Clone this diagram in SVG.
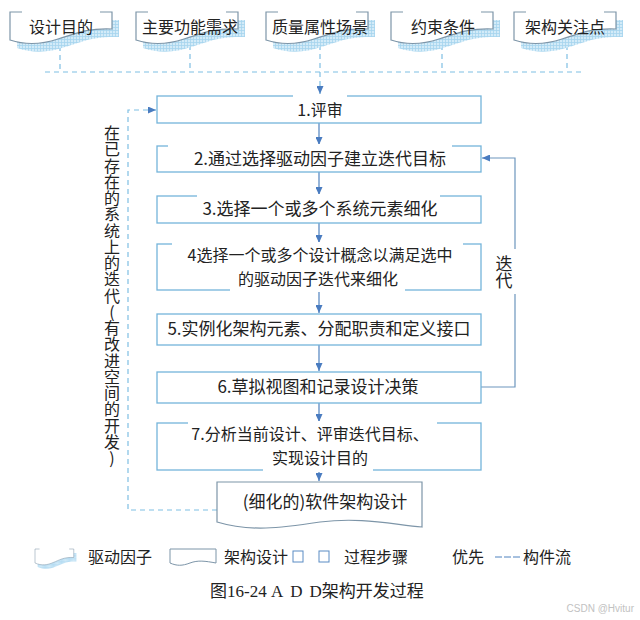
<svg xmlns="http://www.w3.org/2000/svg" xmlns:xlink="http://www.w3.org/1999/xlink" width="640" height="620" viewBox="0 0 640 620">
<style>
.t{font-family:"Noto Sans CJK SC","Liberation Sans",sans-serif;fill:#222;}
.v{writing-mode:vertical-rl;text-orientation:upright;}
.box{fill:#fff;stroke:#74b4da;stroke-width:1.3;}
.gap{fill:#fff;}
.docline{fill:none;stroke:#7d95a8;stroke-width:1.2;}
.dash{fill:none;stroke:#7fbfe3;stroke-width:1.2;stroke-dasharray:5,4;}
.flow{fill:none;stroke:#4f82bf;stroke-width:1.2;}
.loop{fill:none;stroke:#6d96bd;stroke-width:1.2;}
</style>
<defs>
<pattern id="hatch" width="3" height="3" patternUnits="userSpaceOnUse">
<rect width="3" height="3" fill="#d3ebf8"/>
<path d="M0,0.5H3M0.5,0V3" stroke="#a6d4ee" stroke-width="0.8"/>
</pattern>
<marker id="ah" markerWidth="8" markerHeight="7" refX="8" refY="3.5" orient="auto" markerUnits="userSpaceOnUse">
<path d="M0,0L8,3.5L0,7z" fill="#4a7cc0"/>
</marker>
<g id="doc">
<path d="M7,8H109V25C82,24 72,30 55,35C40,40 25,42 7,36Z" fill="url(#hatch)"/>
<path d="M0,0H102V17C75,16 65,22 48,27C33,32 18,34 0,28Z" fill="#fff"/>
<path class="docline" d="M12,0H0V28C18,34 33,32 48,27C65,22 75,16 102,17V0H90"/>
</g>
</defs>

<g id="connectors">
<path class="dash" d="M60,37V72M190,36V72M320,36V88M442,36V72M567,36V72M45,72H583"/>
<line x1="320" y1="86" x2="320" y2="94" stroke="#7fbfe3" stroke-width="1.2" marker-end="url(#ah)"/>
<line class="flow" x1="319" y1="123" x2="319" y2="145" marker-end="url(#ah)"/>
<line class="flow" x1="319" y1="172" x2="319" y2="195" marker-end="url(#ah)"/>
<line class="flow" x1="319" y1="223" x2="319" y2="243" marker-end="url(#ah)"/>
<line class="flow" x1="319" y1="290" x2="319" y2="313" marker-end="url(#ah)"/>
<line class="flow" x1="319" y1="345" x2="319" y2="371" marker-end="url(#ah)"/>
<line class="flow" x1="319" y1="403" x2="319" y2="422" marker-end="url(#ah)"/>
<line class="flow" x1="319" y1="470" x2="319" y2="481" marker-end="url(#ah)"/>
<path class="loop" d="M481,387H515V294M515,249V158H482" marker-end="url(#ah)"/>
<path class="dash" d="M217,510H128V110H150"/>
<line x1="150" y1="110" x2="156" y2="110" stroke="#7fbfe3" stroke-width="1.2" marker-end="url(#ah)"/>
</g>

<g id="driver-1"><use xlink:href="#doc" x="10" y="12"/><text class="t" x="61" y="33" font-size="16" text-anchor="middle">设计目的</text></g>
<g id="driver-2"><use xlink:href="#doc" x="136" y="12"/><text class="t" x="190" y="33" font-size="16" text-anchor="middle">主要功能需求</text></g>
<g id="driver-3"><use xlink:href="#doc" x="266" y="12"/><text class="t" x="320" y="33" font-size="16" text-anchor="middle">质量属性场景</text></g>
<g id="driver-4"><use xlink:href="#doc" x="391" y="12"/><text class="t" x="443" y="33" font-size="16" text-anchor="middle">约束条件</text></g>
<g id="driver-5"><use xlink:href="#doc" x="514" y="12"/><text class="t" x="565" y="33" font-size="16" text-anchor="middle">架构关注点</text></g>

<g id="step-1"><rect class="box" x="157" y="96" width="324" height="27"/><rect class="gap" x="293" y="94" width="54" height="4"/><text class="t" x="320" y="116" font-size="16" text-anchor="middle">1.评审</text></g>
<g id="step-2"><rect class="box" x="157" y="146" width="324" height="26"/><rect class="gap" x="168" y="144" width="284" height="4"/><text class="t" x="320" y="165" font-size="17" text-anchor="middle">2.通过选择驱动因子建立迭代目标</text></g>
<g id="step-3"><rect class="box" x="157" y="196" width="324" height="27"/><rect class="gap" x="197" y="194" width="243" height="4"/><text class="t" x="320" y="215" font-size="17" text-anchor="middle">3.选择一个或多个系统元素细化</text></g>
<g id="step-4"><rect class="box" x="157" y="244" width="324" height="46"/><rect class="gap" x="172" y="242" width="291" height="4"/><rect class="gap" x="230" y="288" width="175" height="4"/><text class="t" font-size="16" text-anchor="middle"><tspan x="320" y="261">4选择一个或多个设计概念以满足选中</tspan><tspan x="318" dy="23.5">的驱动因子迭代来细化</tspan></text></g>
<g id="step-5"><rect class="box" x="157" y="314" width="324" height="31"/><text class="t" x="319" y="335" font-size="17" text-anchor="middle">5.实例化架构元素、分配职责和定义接口</text></g>
<g id="step-6"><rect class="box" x="157" y="372" width="324" height="31"/><text class="t" x="318" y="393" font-size="17" text-anchor="middle">6.草拟视图和记录设计决策</text></g>
<g id="step-7"><rect class="box" x="157" y="423" width="324" height="47"/><rect class="gap" x="188" y="421" width="249" height="4"/><rect class="gap" x="263" y="468" width="110" height="4"/><text class="t" font-size="16" text-anchor="middle"><tspan x="310" y="440">7.分析当前设计、评审迭代目标、</tspan><tspan x="320" dy="23.5">实现设计目的</tspan></text></g>
<g id="output"><path d="M217,482H422V527C390,524 360,517 320,522C280,528 250,532 217,522Z" fill="#fff" stroke="#7d95a8" stroke-width="1.2"/><text class="t" x="325" y="508" font-size="17" text-anchor="middle">(细化的)软件架构设计</text></g>

<g id="label-iterate"><text class="t v" x="504" y="255" font-size="17">迭代</text></g>
<g id="label-existing"><text class="t v" x="112" y="125" font-size="16" letter-spacing="0.25">在已存在的系统上的迭代(有改进空间的开发)</text></g>

<g id="legend">
<use xlink:href="#doc" transform="translate(35,549) scale(0.38,0.5)"/>
<text class="t" x="88" y="563" font-size="16">驱动因子</text>
<path d="M170,549H216V563C205,561 198,560 190,563C182,566 177,566 170,563Z" fill="#fff" stroke="#7d95a8" stroke-width="1"/>
<text class="t" x="224" y="563" font-size="16">架构设计</text>
<rect x="293" y="551" width="10" height="11" fill="none" stroke="#5a8cc4" stroke-width="1"/>
<rect x="319" y="551" width="10" height="11" fill="none" stroke="#5a8cc4" stroke-width="1"/>
<text class="t" x="344" y="563" font-size="16">过程步骤</text>
<text class="t" x="452" y="563" font-size="16">优先</text>
<line x1="495" y1="557" x2="522" y2="557" stroke="#4f82bf" stroke-width="1" stroke-dasharray="7,2"/>
<text class="t" x="523" y="563" font-size="16">构件流</text>
</g>

<text x="317" y="597" font-size="17" text-anchor="middle" fill="#222" font-family="Liberation Serif,Noto Sans CJK SC,serif">图16-24 <tspan letter-spacing="7">AD</tspan>D架构开发过程</text>
<text x="634" y="612" font-size="10" text-anchor="end" fill="#c2c2c2" font-family="Liberation Sans,sans-serif">CSDN @Hvitur</text>
</svg>
